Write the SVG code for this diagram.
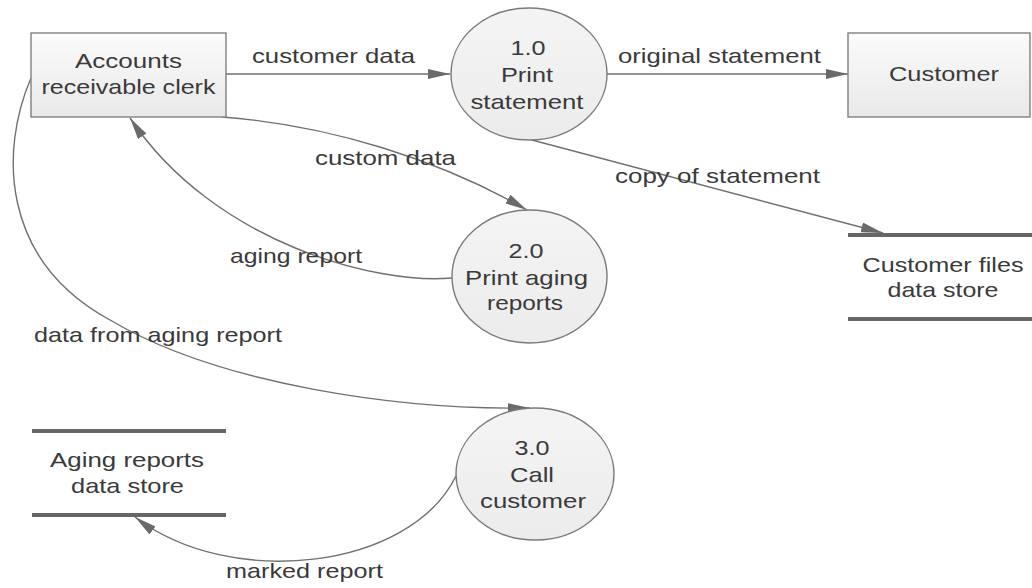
<svg xmlns="http://www.w3.org/2000/svg" width="1032" height="588" viewBox="0 0 1032 588">
<defs>
<linearGradient id="boxg" x1="0" y1="0" x2="0" y2="1"><stop offset="0" stop-color="#fbfbfb"/><stop offset="1" stop-color="#e9e9e9"/></linearGradient>
<linearGradient id="cirg" x1="0" y1="0" x2="0" y2="1"><stop offset="0" stop-color="#f4f4f4"/><stop offset="1" stop-color="#ececec"/></linearGradient>
<marker id="arr" markerUnits="userSpaceOnUse" markerWidth="24" markerHeight="12" refX="22" refY="5" orient="auto"><path d="M0,0 L22,5 L0,10 z" fill="#6a6a6a"/></marker>
<style>
.box{fill:url(#boxg);stroke:#808080;stroke-width:1.4}
.proc{fill:url(#cirg);stroke:#7a7a7a;stroke-width:1.4}
.store{stroke:#666;stroke-width:4}
.t{font-family:"Liberation Sans",Arial,sans-serif;font-size:21px;fill:#3a3a3a;text-anchor:middle}
.l{font-family:"Liberation Sans",Arial,sans-serif;font-size:21px;fill:#3a3a3a}
.c{fill:none;stroke:#707070;stroke-width:1.4;marker-end:url(#arr)}
</style>
</defs>
<g id="connectors">
<path class="c" d="M226 74 L450 74"/>
<path class="c" d="M607 74 L848 74"/>
<path class="c" d="M532 140 L883 233"/>
<path class="c" d="M222 117 C330 125 440 160 527 210"/>
<path class="c" d="M452 278 C380 285 215 245 130 118"/>
<path class="c" d="M31 78 C0 150 0 260 110 320 C220 385 400 410 530 408"/>
<path class="c" d="M456 476 C410 570 230 590 135 517"/>
<text class="l" x="252" y="63" textLength="163" lengthAdjust="spacingAndGlyphs">customer data</text>
<text class="l" x="618" y="63" textLength="203" lengthAdjust="spacingAndGlyphs">original statement</text>
<text class="l" x="615" y="183" textLength="205" lengthAdjust="spacingAndGlyphs">copy of statement</text>
<text class="l" x="315" y="165" textLength="141" lengthAdjust="spacingAndGlyphs">custom data</text>
<text class="l" x="230" y="263" textLength="132" lengthAdjust="spacingAndGlyphs">aging report</text>
<text class="l" x="34" y="342" textLength="248" lengthAdjust="spacingAndGlyphs">data from aging report</text>
<text class="l" x="226" y="578" textLength="157" lengthAdjust="spacingAndGlyphs">marked report</text>
</g>
<g id="clerk">
<rect class="box" x="31" y="33" width="195" height="84"/>
<text class="t" x="128.5" y="68" textLength="107" lengthAdjust="spacingAndGlyphs">Accounts</text>
<text class="t" x="128.5" y="94" textLength="174" lengthAdjust="spacingAndGlyphs">receivable clerk</text>
</g>
<g id="customer">
<rect class="box" x="848" y="33" width="182" height="84"/>
<text class="t" x="944" y="81" textLength="110" lengthAdjust="spacingAndGlyphs">Customer</text>
</g>
<g id="p1">
<ellipse class="proc" cx="529" cy="74" rx="78" ry="66"/>
<text class="t" x="528" y="55" textLength="35" lengthAdjust="spacingAndGlyphs">1.0</text>
<text class="t" x="527" y="82" textLength="52" lengthAdjust="spacingAndGlyphs">Print</text>
<text class="t" x="527" y="109" textLength="113" lengthAdjust="spacingAndGlyphs">statement</text>
</g>
<g id="p2">
<ellipse class="proc" cx="529.5" cy="276.5" rx="77.5" ry="66.5"/>
<text class="t" x="526" y="258" textLength="35" lengthAdjust="spacingAndGlyphs">2.0</text>
<text class="t" x="526.5" y="285" textLength="123" lengthAdjust="spacingAndGlyphs">Print aging</text>
<text class="t" x="525" y="310" textLength="76" lengthAdjust="spacingAndGlyphs">reports</text>
</g>
<g id="p3">
<ellipse class="proc" cx="535" cy="474" rx="79" ry="66"/>
<text class="t" x="532" y="455" textLength="35" lengthAdjust="spacingAndGlyphs">3.0</text>
<text class="t" x="532" y="482" textLength="44" lengthAdjust="spacingAndGlyphs">Call</text>
<text class="t" x="533" y="508" textLength="106" lengthAdjust="spacingAndGlyphs">customer</text>
</g>
<g id="store-customer">
<line class="store" x1="848" y1="235" x2="1032" y2="235"/>
<line class="store" x1="848" y1="319" x2="1032" y2="319"/>
<text class="t" x="943" y="272" textLength="161" lengthAdjust="spacingAndGlyphs">Customer files</text>
<text class="t" x="943" y="297" textLength="111" lengthAdjust="spacingAndGlyphs">data store</text>
</g>
<g id="store-aging">
<line class="store" x1="32" y1="431" x2="226" y2="431"/>
<line class="store" x1="32" y1="515" x2="226" y2="515"/>
<text class="t" x="127" y="467" textLength="154" lengthAdjust="spacingAndGlyphs">Aging reports</text>
<text class="t" x="127.5" y="493" textLength="113" lengthAdjust="spacingAndGlyphs">data store</text>
</g>
</svg>
